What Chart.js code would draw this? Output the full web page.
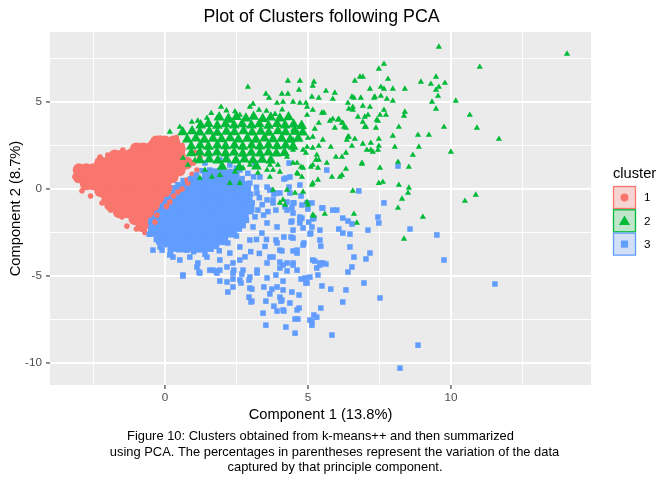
<!DOCTYPE html>
<html>
<head>
<meta charset="utf-8">
<script src="https://cdn.jsdelivr.net/npm/chart.js@4.4.1/dist/chart.umd.min.js"></script>
<style>
  html, body { margin: 0; padding: 0; background: #ffffff; }
  #wrap { width: 672px; height: 480px; }
</style>
</head>
<body>
<div id="wrap"><canvas id="c" width="672" height="480"></canvas></div>
<script>
// ---------------- data ----------------
const clusterNames = ['1', '2', '3'];
const chartTitle = 'Plot of Clusters following PCA';
const xAxisTitle = 'Component 1 (13.8%)';
const yAxisTitle = 'Component 2 (8.7%)';
const captionLines = [
  'Figure 10: Clusters obtained from k-means++ and then summarized',
  'using PCA. The percentages in parentheses represent the variation of the data',
  'captured by that principle component.'
];
const xTickValues = [-2.5, 0, 2.5, 5, 7.5, 10, 12.5];
const xTickLabels = ['', '0', '', '5', '', '10', ''];
const yTickValues = [-10, -7.5, -5, -2.5, 0, 2.5, 5, 7.5];
const yTickLabels = ['-10', '', '-5', '', '0', '', '5', ''];

// cluster 1: dense core (overlapping observations) and edge points
const c1Core = [
[-0.3,2.7],[0,2.7],[0.3,2.7],
[-1,2.3],[-0.75,2.3],[-0.5,2.3],[-0.25,2.3],[0,2.3],[0.25,2.3],[0.5,2.3],
[-1.75,1.9],[-1.5,1.9],[-1.25,1.9],[-1,1.9],[-0.75,1.9],[-0.5,1.9],[-0.25,1.9],[0,1.9],[0.25,1.9],[0.5,1.9],
[-2.25,1.5],[-2,1.5],[-1.75,1.5],[-1.5,1.5],[-1.25,1.5],[-1,1.5],[-0.75,1.5],[-0.5,1.5],[-0.25,1.5],[0,1.5],[0.25,1.5],[0.5,1.5],[0.75,1.5],
[-3,1.1],[-2.75,1.1],[-2.5,1.1],[-2.25,1.1],[-2,1.1],[-1.75,1.1],[-1.5,1.1],[-1.25,1.1],[-1,1.1],[-0.75,1.1],[-0.5,1.1],[-0.25,1.1],[0,1.1],[0.25,1.1],[0.5,1.1],
[-3,0.7],[-2.75,0.7],[-2.5,0.7],[-2.25,0.7],[-2,0.7],[-1.75,0.7],[-1.5,0.7],[-1.25,0.7],[-1,0.7],[-0.75,0.7],[-0.5,0.7],[-0.25,0.7],[0,0.7],[0.25,0.7],
[-2.75,0.3],[-2.5,0.3],[-2.25,0.3],[-2,0.3],[-1.75,0.3],[-1.5,0.3],[-1.25,0.3],[-1,0.3],[-0.75,0.3],[-0.5,0.3],[-0.25,0.3],[0,0.3],
[-2.25,-0.1],[-2,-0.1],[-1.75,-0.1],[-1.5,-0.1],[-1.25,-0.1],[-1,-0.1],[-0.75,-0.1],[-0.5,-0.1],[-0.25,-0.1],[0,-0.1],
[-2,-0.5],[-1.75,-0.5],[-1.5,-0.5],[-1.25,-0.5],[-1,-0.5],[-0.75,-0.5],[-0.5,-0.5],[-0.25,-0.5],
[-1.9,-0.9],[-1.65,-0.9],[-1.4,-0.9],[-1.15,-0.9],[-0.9,-0.9],[-0.65,-0.9],[-0.4,-0.9],
[-1.6,-1.3],[-1.35,-1.3],[-1.1,-1.3],[-0.85,-1.3],[-0.6,-1.3],
[-1.05,-1.7],[-0.8,-1.7],
[-0.8,-2.1]
];
const c1Pts = [
[-1.33,-2.13],[-1.15,-1.78],[-1.47,2.24],[-1.19,2.18],[-0.77,2.24],[-0.17,2.93],[0.17,-0.75],[-0.28,-1.5],
[0.45,-0.17],[0.8,0.34],[1.12,1.09],[1.22,1.84],[0.77,0.52],[0.17,0.06],[-2.27,1.84],[-2.0,1.95],[-1.8,2.05],
[-0.5,2.6],[-0.9,2.5],[0.4,2.95],[0.6,2.5],[1.0,1.5],[-3.15,0.7],[-3.1,1.0],[-2.9,-0.1],[-2.6,-0.4],
[-2.2,-0.8],[-1.9,-1.2],[-1.5,-1.6],[-1.0,-2.3],[-0.7,-2.5],[0.3,-0.4],[0.05,-1.0],[-0.35,-1.9],[0.6,0.0],[0.95,0.85],[1.05,2.1]
];

// cluster 2
const c2Core = [
[1.9,4.12],[2.22,4.04],[2.5,4.14],[2.83,4.06],[3.1,4.15],[3.42,4.03],[3.7,4.11],[4.02,4.05],[4.32,4.13],
[1.25,3.66],[1.52,3.74],[1.83,3.64],[2.12,3.72],[2.42,3.65],[2.7,3.73],[3.02,3.66],[3.3,3.72],[3.62,3.64],[3.92,3.74],[4.2,3.66],[4.5,3.71],[4.78,3.63],
[0.62,3.26],[0.95,3.32],[1.22,3.25],[1.55,3.31],[1.83,3.24],[2.15,3.3],[2.43,3.27],[2.75,3.33],[3.05,3.25],[3.35,3.3],[3.63,3.24],[3.95,3.32],[4.22,3.26],[4.55,3.3],[4.82,3.25],
[0.78,2.85],[1.08,2.91],[1.38,2.84],[1.68,2.9],[1.98,2.86],[2.28,2.92],[2.57,2.85],[2.88,2.9],[3.18,2.84],[3.48,2.91],[3.78,2.86],[4.08,2.9],[4.38,2.84],[4.66,2.9],
[0.92,2.45],[1.23,2.5],[1.52,2.44],[1.83,2.51],[2.12,2.46],[2.43,2.5],[2.72,2.44],[3.03,2.5],[3.32,2.45],[3.62,2.51],[3.92,2.46],[4.22,2.5],[4.48,2.44],
[0.92,2.06],[1.22,2.1],[1.52,2.04],[1.82,2.1],[2.12,2.05],[2.42,2.1],[2.72,2.03],[3.02,2.09],[3.32,2.05],[3.62,2.1],[3.9,2.04],[4.18,2.08],
[1.22,1.66],[1.55,1.7],[1.85,1.64],[2.15,1.7],[2.48,1.65],[2.78,1.7],[3.08,1.64],[3.4,1.69],[3.7,1.65],
[2.0,1.28],[2.6,1.24],[3.2,1.3]
];
const c2Pts = [
[1.96,4.71],[2.90,5.86],[3.53,5.46],[3.64,5.23],[4.30,6.21],[4.72,6.21],[5.21,6.15],[5.17,5.92],[4.69,5.69],[4.09,5.46],
[4.30,5.46],[5.14,5.29],[5.38,5.23],[5.63,5.63],[5.94,5.52],[5.87,5.17],[6.64,6.21],[6.82,6.44],[6.92,6.44],[7.17,5.75],
[7.34,5.29],[6.40,4.94],[6.57,4.71],[6.85,5.23],[6.57,4.54],[6.75,4.14],[6.99,4.14],[7.10,4.25],[7.41,3.97],[7.03,3.56],
[7.38,3.51],[5.87,4.02],[6.08,4.02],[6.19,3.79],[6.26,3.56],[5.94,3.51],[5.56,4.37],[5.77,3.91],[5.38,3.79],[5.24,3.45],
[5.17,2.99],[5.00,2.93],[5.52,2.82],[5.80,2.41],[5.38,2.47],[5.17,2.36],[4.97,2.41],[4.83,2.24],[4.93,2.07],[5.31,1.95],
[5.38,1.67],[5.66,1.49],[5.98,1.84],[6.19,1.84],[6.36,2.82],[6.40,2.99],[6.64,2.87],[6.54,2.47],[6.92,2.59],[7.20,2.24],
[7.45,2.24],[7.06,2.24],[6.89,1.49],[6.12,0.69],[5.84,0.69],[4.79,0.69],[4.62,0.92],[4.76,1.26],[4.62,1.49],[5.28,1.67],
[5.10,1.26],[5.35,1.21],[3.78,1.09],[3.67,1.38],[4.27,1.84],[4.48,2.24],[4.48,2.82],[4.65,3.22],[4.48,3.39],[4.97,4.25],
[4.97,4.71],[5.17,4.54],[5.49,4.37],[3.92,4.94],[4.13,5.00],[4.48,5.00],[4.72,4.94],[4.93,4.94],[3.29,4.54],[3.08,4.89],
[2.97,4.71],[2.62,4.25],[2.31,3.91],[1.82,4.08],[1.47,4.08],[1.15,3.91],[0.94,3.85],[0.52,3.56],[0.17,3.28],[7.17,4.71],
[6.54,5.29],[6.92,3.85],[7.52,4.25],[1.62,4.35],[2.45,4.45],[3.55,4.48],[4.1,4.55],[2.15,4.5],[3.85,4.3],
[9.58,8.16],[14.06,7.76],[7.66,7.18],[7.48,6.90],[11.01,7.01],[7.80,6.32],[8.95,6.15],[9.48,6.44],[9.79,6.09],[9.30,6.03],
[7.55,5.86],[7.66,5.75],[7.97,5.75],[8.39,5.75],[9.58,5.86],[9.48,5.69],[9.55,5.34],[6.61,5.23],[7.31,5.23],[7.55,5.34],
[7.76,5.17],[7.97,5.06],[9.34,5.00],[10.17,5.06],[6.92,4.77],[6.43,4.60],[7.66,4.54],[9.48,4.60],[8.39,4.43],[7.73,4.25],
[8.36,4.20],[7.45,3.91],[10.66,4.25],[6.05,3.97],[6.22,3.79],[6.33,3.51],[6.99,3.56],[8.18,3.56],[9.76,3.56],[10.91,3.51],
[8.85,3.10],[9.23,3.10],[6.43,2.99],[7.20,2.64],[7.48,2.87],[7.97,3.05],[11.68,2.87],[7.48,2.47],[8.04,2.41],[8.88,2.41],
[7.27,2.13],[6.33,2.07],[10.00,2.13],[8.67,1.95],[6.89,1.44],[8.15,1.55],[8.53,1.26],[7.52,1.21],[6.33,1.15],[6.19,0.80],
[7.48,0.34],[7.62,0.40],[8.18,0.23],[8.53,0.06],[8.50,-0.23],[6.57,-0.11],[8.29,-0.57],[10.49,-0.69],[10.87,-0.34],[8.15,-1.09],
[6.61,-1.44],[6.71,-1.95],[9.02,-1.61],[8.36,-2.87],
[4.02,-0.80],[4.20,-0.92],[5.00,-0.92],[5.21,-1.55],[5.59,-1.44],
[4.02,0.98],[4.65,0.86],[4.27,-0.06],[4.55,-0.23],[4.83,-0.17],[4.97,-0.75],[5.17,-1.49],[5.14,0.23],[3.67,0.69],[3.57,1.09],
[3.95,1.38],[4.48,1.49],[4.83,1.21],[5.17,1.38],[5.17,0.34],[5.35,0.52],[4.13,-0.63],[3.78,-0.06],[3.25,0.92],[2.73,1.21],
[2.62,0.34],[2.27,0.34],[1.64,0.69],[1.05,1.67],[1.40,1.09],[1.92,0.80],[2.45,0.98],[2.97,1.38],[1.22,0.63],[0.80,1.38],[0.63,1.78]
];

// cluster 3
const c3Core = [
[1.5,0.78],[1.8,0.84],[2.1,0.76],[2.4,0.82],
[0.75,0.3],[1.05,0.36],[1.35,0.3],[1.65,0.37],[1.95,0.31],[2.25,0.36],[2.55,0.3],
[0.4,-0.12],[0.7,-0.07],[1.0,-0.13],[1.3,-0.08],[1.6,-0.12],[1.9,-0.06],[2.2,-0.12],[2.5,-0.08],[2.8,-0.14],
[0.05,-0.55],[0.35,-0.6],[0.65,-0.54],[0.95,-0.59],[1.25,-0.55],[1.55,-0.6],[1.85,-0.54],[2.15,-0.58],[2.45,-0.55],[2.78,-0.6],
[-0.1,-1.0],[0.2,-1.05],[0.5,-1.01],[0.8,-1.06],[1.1,-1.0],[1.4,-1.05],[1.7,-1.02],[2.0,-1.06],[2.3,-1.0],[2.6,-1.05],[2.92,-1.0],
[-0.3,-1.47],[0,-1.52],[0.3,-1.46],[0.6,-1.51],[0.9,-1.47],[1.2,-1.52],[1.5,-1.46],[1.8,-1.5],[2.1,-1.47],[2.4,-1.52],[2.72,-1.46],
[-0.4,-1.93],[-0.1,-1.98],[0.2,-1.92],[0.5,-1.97],[0.8,-1.93],[1.1,-1.98],[1.4,-1.92],[1.7,-1.97],[2.0,-1.94],[2.3,-1.98],[2.62,-1.92],
[-0.38,-2.4],[-0.1,-2.44],[0.2,-2.38],[0.5,-2.43],[0.8,-2.39],[1.1,-2.44],[1.4,-2.38],[1.7,-2.43],[2.0,-2.4],[2.32,-2.44],
[-0.1,-2.85],[0.2,-2.9],[0.5,-2.84],[0.8,-2.89],[1.1,-2.86],[1.4,-2.9],[1.7,-2.85],[2.0,-2.88],
[0.3,-3.26],[0.6,-3.3],[0.9,-3.25],[1.2,-3.31],[1.5,-3.27]
];
const c3Pts = [
[4.37,0.69],[4.16,0.57],[4.76,-0.40],[4.51,-0.80],[4.34,0.11],[3.81,-0.29],[3.57,0.11],[3.78,-0.80],[4.27,-1.21],[3.88,-1.21],
[4.44,-1.84],[4.72,-1.78],[5.17,-1.72],[4.83,-2.24],[5.10,-2.53],[3.92,-2.18],[3.57,-1.95],[4.16,-2.76],[3.88,-2.93],[4.48,-2.82],
[4.62,-3.51],[4.83,-3.22],[4.02,-3.51],[3.78,-3.91],[4.13,-4.37],[3.57,-4.25],[3.22,-4.66],[2.97,-5.06],[2.73,-4.66],[2.38,-4.83],
[1.92,-4.66],[1.57,-4.66],[1.15,-4.25],[0.63,-4.94],[0.28,-3.91],[-0.10,-3.51],[0.87,-3.91],[2.62,1.09],[2.97,0.34],[3.22,-0.23],
[2.97,-0.63],[3.25,-1.21],[3.08,-2.18],[3.39,-2.53],[2.97,-2.93],[2.62,-3.33],[2.27,-3.68],[1.92,-4.08],[1.47,-3.91],[2.17,-4.48],
[2.38,-4.25],[2.62,-4.08],
[5.52,-1.09],[6.01,-1.21],[7.66,-0.80],[7.45,-1.61],[7.48,-1.95],[6.22,-1.67],[6.40,-1.84],[6.54,-2.01],[6.08,-2.30],[6.22,-2.53],
[6.47,-2.59],[7.10,-2.36],[8.57,-2.30],[5.42,-2.93],[5.45,-3.28],[6.47,-3.33],[6.61,-3.91],[7.17,-3.68],[7.03,-4.02],[6.54,-4.48],
[6.40,-4.77],[4.62,-3.68],[5.24,-4.14],[5.42,-4.25],[5.63,-4.31],[5.31,-4.54],[6.96,-5.40],[6.33,-5.80],[5.80,-5.75],[5.49,-5.57],
[7.52,-6.26],[6.22,-6.49],[5.45,-6.84],[5.21,-7.24],[5.31,-7.36],[5.14,-7.59],[5.14,-7.82],[5.84,-8.39],[4.65,-7.47],[4.69,-6.84],
[4.62,-6.95],[4.23,-7.93],[4.55,-8.28],[3.53,-7.82],[3.43,-7.13],[3.92,-7.01],[4.16,-7.01],[4.06,-6.44],[4.02,-6.21],[3.81,-6.73],
[3.53,-6.44],[3.67,-6.03],[3.74,-5.75],[4.13,-5.80],[4.44,-5.92],[4.69,-6.09],[3.46,-5.63],[3.04,-5.75],[2.94,-6.21],[3.01,-6.49],
[4.13,-5.29],[4.76,-5.17],[4.93,-5.40],[4.90,-5.11],[3.57,-5.11],[3.88,-4.94],[4.27,-4.71],[4.62,-4.66],[4.48,-4.25],[2.66,-5.40],
[2.38,-5.63],[2.20,-5.92],[1.92,-5.29],[2.17,-5.34],[2.38,-5.17],[2.94,-5.23],[1.78,-4.71],[2.41,-4.66],[2.69,-4.89],[3.22,-4.83],
[4.02,-4.54],[3.67,-3.91],[4.02,-4.20],[4.48,-3.56],[4.09,-3.56],[3.92,-3.10],[4.41,-2.76],[4.86,-3.10],[5.07,-2.59],[5.03,-1.90],
[5.21,-1.67],[5.00,-1.15],[4.48,-1.38],[4.41,-1.90],[4.72,-1.95],[4.48,-0.80],[4.79,-0.92],
[9.76,-4.08],[11.54,-5.46],[8.85,-8.97],[8.22,-10.29],
[0.63,-5.00],[1.19,-4.77],[2.62,-5.23],[2.97,-5.69],[3.04,-6.44],[3.92,-5.63],[4.09,-6.38],[4.13,-6.95],[4.37,-6.55],[4.55,-7.47],
[5.07,-7.53],[4.97,-5.40],[5.07,-5.06],[4.48,-4.37],[4.27,-4.25],[5.17,-4.08],[5.42,-4.37],[5.52,-4.25],[5.35,-4.94],
[8.15,1.32],[6.78,-0.11],[9.51,-2.64],
[4.34,1.49],[5.66,1.09],[4.97,-0.80],[5.14,-0.80],[4.44,-1.09],[5.87,-1.21],[5.49,-1.09],[5.42,-2.36],[4.72,-1.61],[4.20,-1.03],
[4.02,-0.23],[3.57,-0.63],[4.48,-2.36],[5.14,-2.18],[4.23,0.63],[4.72,0.23],[3.67,-0.06],[3.92,-0.23],[4.37,-0.23],[3.78,-0.63],
[4.27,-0.75],[4.79,-1.67],[3.32,0.69],[3.15,1.49],[1.92,1.67],[2.27,1.38],[1.40,1.49],[1.57,1.09],
[-0.42,-3.51],[0.17,-3.79],[0.52,-4.08],[1.12,-4.48],[1.68,-4.66],[1.82,-4.83],[1.22,-4.83],[-0.17,-3.33],[0.77,-3.51],
[3.2,0.1],[3.4,-0.9],[3.15,-1.6],[3.45,-1.5],[3.2,-2.9],[3.5,-3.3],[3.3,-3.7],[3.0,-3.6],[2.8,-3.9],[3.55,-2.9],[3.6,-1.3],[3.3,-0.5],
[2.9,0.9],[3.1,0.7],
[0.0,-3.2],[1.8,-3.3],[2.2,-3.1],[2.5,-2.7],[-0.3,-2.9],[0.2,-3.6],[1.0,-3.6],[1.4,-3.75],[1.9,-3.55],[2.6,-2.3],[2.85,-1.8],
[3.0,-1.3],[3.05,-0.8],[3.0,-0.3],[2.8,0.3],[2.7,0.6],[1.1,0.8],[0.9,0.6],[1.3,1.05],[2.0,1.1],[2.5,1.2],[0.45,0.25],[-0.55,-2.6]
];

// ---------------- rendering ----------------
const FONT = '"Liberation Sans", Arial, Helvetica, sans-serif';
const COLORS = ['#F8766D', '#00BA38', '#619CFF'];
const KEY_FILLS = ['#F6D4D1', '#BFE6CB', '#D2E0F7'];
const toXY = arr => arr.map(p => ({ x: p[0], y: p[1] }));
const isMajor = v => Math.abs(v % 5) < 1e-9;

const panelPlugin = {
  id: 'panel',
  beforeDraw(chart) {
    const { ctx, chartArea: a } = chart;
    ctx.save();
    ctx.fillStyle = '#FFFFFF';
    ctx.fillRect(0, 0, chart.width, chart.height);
    ctx.fillStyle = '#EBEBEB';
    ctx.fillRect(a.left, a.top, a.right - a.left, a.bottom - a.top);
    ctx.restore();
  },
  afterDraw(chart) {
    const { ctx, chartArea: a } = chart;
    const cx = (a.left + a.right) / 2;
    ctx.save();
    ctx.fillStyle = '#000000';
    ctx.textAlign = 'center';
    ctx.textBaseline = 'alphabetic';
    ctx.font = '17.8px ' + FONT;
    ctx.fillText(chartTitle, cx + 1, 22);
    ctx.font = '12.9px ' + FONT;
    const capX = [cx, 334.5, 335];
    const capY = [440, 455.5, 470.5];
    captionLines.forEach((t, i) => ctx.fillText(t, capX[i], capY[i]));
    ctx.textAlign = 'left';
    ctx.font = '14.7px ' + FONT;
    ctx.fillText('cluster', 613, 178);
    const kx = 613.5, ks = 22;
    clusterNames.forEach((name, i) => {
      const ky = 186.5 + i * 23.3;
      ctx.fillStyle = KEY_FILLS[i];
      ctx.fillRect(kx, ky, ks, ks);
      ctx.strokeStyle = COLORS[i];
      ctx.lineWidth = 1.3;
      ctx.strokeRect(kx, ky, ks, ks);
      const mx = kx + ks / 2, my = ky + ks / 2;
      ctx.fillStyle = COLORS[i];
      ctx.beginPath();
      if (i === 0) {
        ctx.arc(mx, my, 4, 0, Math.PI * 2);
      } else if (i === 1) {
        ctx.moveTo(mx, my - 5.2);
        ctx.lineTo(mx + 5.6, my + 4.2);
        ctx.lineTo(mx - 5.6, my + 4.2);
        ctx.closePath();
      } else {
        ctx.rect(mx - 3.6, my - 3.6, 7.2, 7.2);
      }
      ctx.fill();
      ctx.fillStyle = '#000000';
      ctx.font = '11.7px ' + FONT;
      ctx.textBaseline = 'middle';
      ctx.fillText(name, 644, my + 0.5);
      ctx.textBaseline = 'alphabetic';
    });
    ctx.restore();
  }
};

function ds(label, data, style, radius, color, order) {
  return {
    label, data: toXY(data), pointStyle: style, pointRadius: radius, pointHoverRadius: radius,
    backgroundColor: color, pointBackgroundColor: color, borderColor: color,
    pointBorderWidth: 0, borderWidth: 0, showLine: false, order
  };
}

new Chart(document.getElementById('c'), {
  type: 'scatter',
  data: {
    datasets: [
      ds('3 (dense)', c3Core, 'rect', 8.5, COLORS[2], 6),
      ds('1 (dense)', c1Core, 'circle', 6.5, COLORS[0], 5),
      ds('1', c1Pts, 'circle', 2.8, COLORS[0], 4),
      ds('3', c3Pts, 'rect', 3.9, COLORS[2], 3),
      ds('2 (dense)', c2Core, 'triangle', 6.2, COLORS[1], 2),
      ds('2', c2Pts, 'triangle', 3.6, COLORS[1], 1)
    ]
  },
  options: {
    responsive: false,
    animation: false,
    events: [],
    layout: { padding: { left: 0, right: 81, top: 32, bottom: 55 } },
    plugins: { legend: { display: false }, tooltip: { enabled: false }, title: { display: false } },
    scales: {
      x: {
        type: 'linear', min: -4.02, max: 14.9,
        afterBuildTicks: s => { s.ticks = xTickValues.map(v => ({ value: v })); },
        afterFit: s => { s.height = 40; },
        border: { display: false },
        grid: {
          color: '#FFFFFF',
          lineWidth: c => (c.tick && isMajor(c.tick.value)) ? 1.9 : 0.95,
          drawTicks: true, tickLength: 4,
          tickColor: c => (c.tick && isMajor(c.tick.value)) ? '#333333' : 'rgba(0,0,0,0)',
          tickWidth: 1.1
        },
        ticks: {
          autoSkip: false, maxRotation: 0, padding: 2, color: '#4D4D4D',
          font: { family: FONT, size: 11.7 },
          callback: (v, i) => xTickLabels[i]
        },
        title: { display: true, text: xAxisTitle, color: '#000000', font: { family: FONT, size: 14.7 }, padding: { top: 0, bottom: 1 } }
      },
      y: {
        type: 'linear', min: -11.26, max: 9.02,
        afterBuildTicks: s => { s.ticks = yTickValues.map(v => ({ value: v })); },
        afterFit: s => { s.width = 50; },
        border: { display: false },
        grid: {
          color: '#FFFFFF',
          lineWidth: c => (c.tick && isMajor(c.tick.value)) ? 1.9 : 0.95,
          drawTicks: true, tickLength: 4,
          tickColor: c => (c.tick && isMajor(c.tick.value)) ? '#333333' : 'rgba(0,0,0,0)',
          tickWidth: 1.1
        },
        ticks: {
          autoSkip: false, padding: 4, color: '#4D4D4D',
          font: { family: FONT, size: 11.7 },
          callback: (v, i) => yTickLabels[i]
        },
        title: { display: true, text: yAxisTitle, color: '#000000', font: { family: FONT, size: 14.7 }, padding: { top: 7, bottom: 0 } }
      }
    }
  },
  plugins: [panelPlugin]
});
</script>
</body>
</html>
